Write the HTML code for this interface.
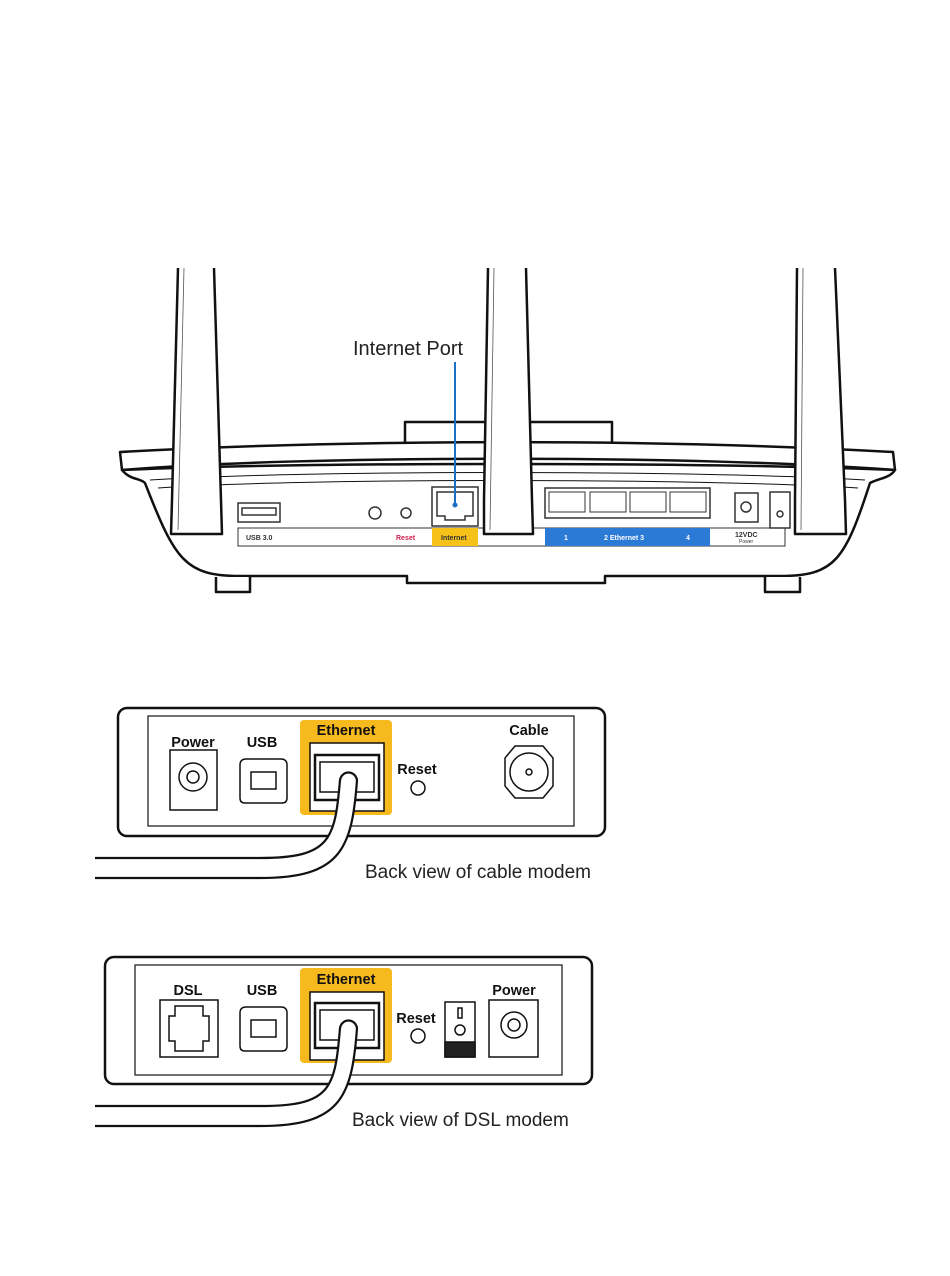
<!DOCTYPE html>
<html><head><meta charset="utf-8"><style>
html,body{margin:0;padding:0;background:#fff;}
svg{display:block;}
text{font-family:"Liberation Sans",sans-serif;}
</style></head><body>
<svg width="950" height="1276" viewBox="0 0 950 1276" xmlns="http://www.w3.org/2000/svg">
<rect width="950" height="1276" fill="#fff"/>
<g fill="none" stroke="#111" stroke-width="2.5" stroke-linejoin="round">
<!-- central tab -->
<path d="M405 445 L405 422 L612 422 L612 445" fill="#fff"/>
<!-- top lip -->
<path d="M120 452 C300 442 600 436 893 452 L895 470 C700 455 300 455 122 470 Z" fill="#fff"/>
<!-- body -->
<path d="M122 470 C130 480 140 478 145 483 C175 560 185 576 240 576 L407 576 L407 583 L605 583 L605 576 L780 576 C835 576 845 560 870 483 C880 478 890 478 895 470 C700 462 300 462 122 470 Z" fill="#fff"/>
<path d="M150 480 C300 470 700 470 865 480" stroke-width="1"/>
<path d="M158 488 C300 478 700 478 858 488" stroke-width="1"/>
<!-- feet -->
<path d="M216 577 L216 592 L250 592 L250 577" fill="#fff"/>
<path d="M765 577 L765 592 L800 592 L800 577" fill="#fff"/>
</g>
<!-- label strip -->
<rect x="238" y="528" width="547" height="18" fill="#fff" stroke="#333" stroke-width="1"/>
<rect x="432" y="528" width="46" height="18" fill="#f6c21a"/>
<rect x="545" y="528" width="165" height="18" fill="#2a7ad6"/>
<g font-size="7" font-weight="bold">
<text x="246" y="540" fill="#333">USB 3.0</text>
<text x="396" y="540" fill="#d0214f">Reset</text>
<text x="441" y="540" fill="#333">Internet</text>
<text x="564" y="540" fill="#fff">1</text>
<text x="604" y="540" fill="#fff">2 Ethernet 3</text>
<text x="686" y="540" fill="#fff">4</text>
<text x="735" y="537" fill="#333">12VDC</text>
<text x="739" y="543" fill="#333" font-size="5" font-weight="normal">Power</text>
</g>
<g fill="none" stroke="#333" stroke-width="1.5">
<rect x="238" y="503" width="42" height="19" fill="#fff"/>
<rect x="242" y="508" width="34" height="7"/>
<circle cx="375" cy="513" r="6"/>
<circle cx="406" cy="513" r="5"/>
<rect x="432" y="487" width="46" height="39" fill="#fff"/>
<path d="M437 492 h36 v24 h-8 v4 h-20 v-4 h-8 z"/>
<rect x="545" y="488" width="165" height="30" fill="#fff"/>
<path d="M549 492 h36 v20 h-36 z M590 492 h36 v20 h-36 z M630 492 h36 v20 h-36 z M670 492 h36 v20 h-36 z" stroke-width="1"/>
<rect x="735" y="493" width="23" height="29"/>
<circle cx="746" cy="507" r="5"/>
<rect x="770" y="492" width="20" height="36" fill="#fff"/>
<circle cx="780" cy="514" r="3"/>
</g>
<!-- antennas -->
<g fill="#fff" stroke="#111" stroke-width="2.5" stroke-linejoin="round">
<path d="M178 268 L172 500 L171 534 L222 534 L221 500 L214 268"/>
<path d="M488 268 L484 500 L484 534 L533 534 L532 500 L526 268"/>
<path d="M797 268 L795 500 L795 534 L846 534 L845 500 L835 268"/>
</g>
<g stroke="#555" stroke-width="0.8"><line x1="184" y1="268" x2="178" y2="530"/><line x1="494" y1="268" x2="490" y2="530"/><line x1="803" y1="268" x2="801" y2="530"/></g>
<!-- callout -->
<text x="353" y="355" font-size="20" fill="#222">Internet Port</text>
<line x1="455" y1="362" x2="455" y2="505" stroke="#1a6fc7" stroke-width="2"/>
<circle cx="455" cy="505" r="2.5" fill="#1a6fc7"/>

<!-- Cable modem -->
<g fill="none" stroke="#111">
<rect x="118" y="708" width="487" height="128" rx="9" stroke-width="2.5"/>
<rect x="148" y="716" width="426" height="110" stroke-width="1.2"/>
</g>
<rect x="300" y="720" width="92" height="95" rx="4" fill="#f6b91e"/>
<g font-size="14.5" font-weight="bold" fill="#111" text-anchor="middle">
<text x="193" y="747">Power</text><text x="262" y="747">USB</text><text x="346" y="735">Ethernet</text><text x="417" y="774">Reset</text><text x="529" y="735">Cable</text>
</g>
<g fill="#fff" stroke="#111" stroke-width="1.5">
<rect x="170" y="750" width="47" height="60"/><circle cx="193" cy="777" r="14"/><circle cx="193" cy="777" r="6"/>
<path d="M240 765 q0 -6 6 -6 h35 q6 0 6 6 v33 q0 5 -5 5 h-37 q-5 0 -5 -5 z"/><rect x="251" y="772" width="25" height="17"/>
<rect x="310" y="743" width="74" height="68"/><rect x="315" y="755" width="64" height="45" stroke-width="2.5"/><rect x="320" y="762" width="54" height="30"/>
<circle cx="418" cy="788" r="7"/>
<path d="M515 746 L543 746 L553 758 L553 786 L543 798 L515 798 L505 786 L505 758 Z"/><circle cx="529" cy="772" r="19"/><circle cx="529" cy="772" r="3"/>
</g>
<path d="M95 858 L260 858 C330 858 335 840 340 780 C342 770 355 770 357 780 C352 850 340 878 260 878 L95 878" fill="#fff" stroke="#111" stroke-width="2.2"/>
<text x="365" y="878" font-size="19" fill="#222">Back view of cable modem</text>

<!-- DSL modem -->
<g fill="none" stroke="#111">
<rect x="105" y="957" width="487" height="127" rx="9" stroke-width="2.5"/>
<rect x="135" y="965" width="427" height="110" stroke-width="1.2"/>
</g>
<rect x="300" y="968" width="92" height="95" rx="4" fill="#f6b91e"/>
<g font-size="14.5" font-weight="bold" fill="#111" text-anchor="middle">
<text x="188" y="995">DSL</text><text x="262" y="995">USB</text><text x="346" y="984">Ethernet</text><text x="416" y="1023">Reset</text><text x="514" y="995">Power</text>
</g>
<g fill="#fff" stroke="#111" stroke-width="1.5">
<rect x="160" y="1000" width="58" height="57"/><path d="M175 1006 h28 v10 h6 v25 h-6 v10 h-28 v-10 h-6 v-25 h6 z"/>
<path d="M240 1013 q0 -6 6 -6 h35 q6 0 6 6 v33 q0 5 -5 5 h-37 q-5 0 -5 -5 z"/><rect x="251" y="1020" width="25" height="17"/>
<rect x="310" y="992" width="74" height="68"/><rect x="315" y="1003" width="64" height="45" stroke-width="2.5"/><rect x="320" y="1010" width="54" height="30"/>
<circle cx="418" cy="1036" r="7"/>
<rect x="445" y="1002" width="30" height="55"/><rect x="445" y="1042" width="30" height="15" fill="#222"/><circle cx="460" cy="1030" r="5"/><rect x="458" y="1008" width="4" height="10"/>
<rect x="489" y="1000" width="49" height="57"/><circle cx="514" cy="1025" r="13"/><circle cx="514" cy="1025" r="6"/>
</g>
<path d="M95 1106 L260 1106 C330 1106 335 1090 340 1028 C342 1018 355 1018 357 1028 C352 1098 340 1126 260 1126 L95 1126" fill="#fff" stroke="#111" stroke-width="2.2"/>
<text x="352" y="1126" font-size="19" fill="#222">Back view of DSL modem</text>
</svg>
</body></html>
